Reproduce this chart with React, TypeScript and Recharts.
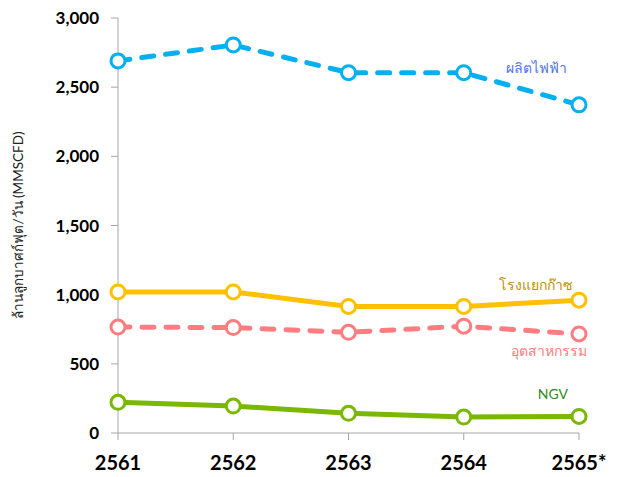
import { LineChart, Line, XAxis, YAxis } from 'recharts';

// ─── ข้อมูล ───────────────────────────────────────────────────────────────────

const years = ['2561', '2562', '2563', '2564', '2565*'];

const power = [2690, 2805, 2605, 2605, 2372];       // ผลิตไฟฟ้า
const gasPlant = [1020, 1020, 915, 915, 960];       // โรงแยกก๊าซ
const industry = [766, 762, 728, 772, 716];         // อุตสาหกรรม
const ngv = [222, 195, 142, 115, 120];              // NGV

const yTicks = [0, 500, 1000, 1500, 2000, 2500, 3000];

const seriesNames = {
  power: 'ผลิตไฟฟ้า',
  gasPlant: 'โรงแยกก๊าซ',
  industry: 'อุตสาหกรรม',
  ngv: 'NGV',
};

const data = years.map((year, i) => ({
  year,
  power: power[i],
  gasPlant: gasPlant[i],
  industry: industry[i],
  ngv: ngv[i],
}));

// ─── สไตล์ ───────────────────────────────────────────────────────────────────

const FONT = 'Lato, "Noto Sans", "DejaVu Sans", sans-serif';
const AXIS_GREY = '#a6a6a6';

// ป้ายชื่อซีรีส์ที่จุดสุดท้าย (แบบ data label ของ Excel)
function endLabel(text: string, color: string, dx: number, dy: number) {
  return (props: any) => {
    if (props.index !== years.length - 1) return null;
    return (
      <text
        x={props.x + dx}
        y={props.y + dy}
        textAnchor="end"
        dominantBaseline="central"
        fill={color}
        fontSize={14}
        fontFamily={FONT}
      >
        {text}
      </text>
    );
  };
}

const dotStyle = (color: string) => ({
  r: 7,
  fill: '#ffffff',
  stroke: color,
  strokeWidth: 3,
  strokeDasharray: 'none',
});

export default function App() {
  return (
    <div style={{ position: 'absolute', left: 0, top: 0, width: 624, height: 477, background: '#fff' }}>
      <LineChart width={624} height={477} data={data} margin={{ top: 18, right: 45, bottom: 0, left: 0 }}>
        <XAxis
          dataKey="year"
          scale="point"
          height={44}
          padding={{ left: 0, right: 0 }}
          interval={0}
          stroke={AXIS_GREY}
          tickSize={7}
          tickMargin={16}
          tick={{ fill: '#000', fontSize: 20, fontWeight: 700, fontFamily: FONT }}
        />
        <YAxis
          width={118}
          domain={[0, 3000]}
          ticks={yTicks}
          interval={0}
          stroke={AXIS_GREY}
          tickSize={7}
          tickMargin={12}
          tickFormatter={(v: number) => v.toLocaleString('en-US')}
          tick={{ fill: '#000', fontSize: 17, fontWeight: 700, fontFamily: FONT }}
          label={{
            content: () => (
              <text
                x={18}
                y={225}
                transform="rotate(-90 18 225)"
                textAnchor="middle"
                dominantBaseline="central"
                fill="#222"
                fontSize={13.5}
                fontFamily={FONT}
              >
                ล้านลูกบาศก์ฟุต/วัน (MMSCFD)
              </text>
            ),
          }}
        />
        <Line
          dataKey="power"
          name={seriesNames.power}
          stroke="#00b0f0"
          strokeWidth={5}
          strokeDasharray="12 12"
          strokeLinecap="round"
          dot={dotStyle('#00b0f0')}
          label={endLabel(seriesNames.power, '#4f75e6', -12, -37)}
          isAnimationActive={false}
        />
        <Line
          dataKey="gasPlant"
          name={seriesNames.gasPlant}
          stroke="#ffc000"
          strokeWidth={5}
          dot={dotStyle('#ffc000')}
          label={endLabel(seriesNames.gasPlant, '#bf9000', -6, -16)}
          isAnimationActive={false}
        />
        <Line
          dataKey="industry"
          name={seriesNames.industry}
          stroke="#ff7c80"
          strokeWidth={5}
          strokeDasharray="12 12"
          strokeLinecap="round"
          dot={dotStyle('#ff7c80')}
          label={endLabel(seriesNames.industry, '#ff7c80', 8, 17)}
          isAnimationActive={false}
        />
        <Line
          dataKey="ngv"
          name={seriesNames.ngv}
          stroke="#7ab800"
          strokeWidth={5}
          dot={dotStyle('#7ab800')}
          label={endLabel(seriesNames.ngv, '#2e8b22', -11, -23)}
          isAnimationActive={false}
        />
      </LineChart>
    </div>
  );
}
